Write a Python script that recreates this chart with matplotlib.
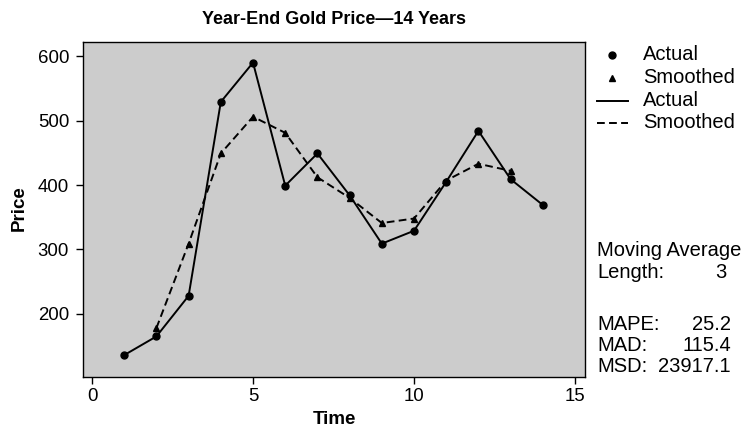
import matplotlib.pyplot as plt
from matplotlib.lines import Line2D

plt.rcParams['font.family'] = ['Liberation Sans', 'DejaVu Sans']

# year index and year-end gold price
time = [1, 2, 3, 4, 5, 6, 7, 8, 9, 10, 11, 12, 13, 14]
actual = [136, 165, 228, 529, 590, 399, 449, 384, 309, 329, 405, 484, 409, 369]

# 3-period moving average, as plotted
smooth_time = [2, 3, 4, 5, 6, 7, 8, 9, 10, 11, 12, 13]
smoothed = [178, 309, 449, 506, 481, 412, 380, 341, 348, 407, 433, 422]

stat_labels = ['MAPE:', 'MAD:', 'MSD:']
stat_values = ['25.2', '115.4', '23917.1']
ma_length = '3'

W, H = 751, 429


def fx(px):
    return px / W


def fy(py):
    return 1 - py / H


fig = plt.figure(figsize=(7.51, 4.29), dpi=100)
ax = fig.add_axes([fx(83), fy(377), (585 - 83) / W, (377 - 42) / H])
ax.set_facecolor('#cccccc')

LW = 1.4
ax.plot(time, actual, '-', color='black', linewidth=LW)
ax.plot(time, actual, 'o', color='black', markersize=5)
ax.plot(smooth_time, smoothed, '--', color='black', linewidth=LW, dashes=(4, 2.2))
ax.plot(smooth_time, smoothed, '^', color='black', markersize=5)

ax.set_xlim(-0.28, 15.31)
ax.set_ylim(102, 622)
ax.set_xticks([0, 5, 10, 15])
ax.set_yticks([200, 300, 400, 500, 600])
ax.tick_params(direction='out', length=5, width=1, labelsize=13.4, color='black')
ax.tick_params(axis='y', pad=5)
ax.tick_params(axis='x', pad=3)
for s in ax.spines.values():
    s.set_linewidth(1)

ax.set_xlabel('Time', fontsize=13.5, fontweight='bold')
ax.set_ylabel('Price', fontsize=13.5, fontweight='bold')
ax.xaxis.set_label_coords(0.5 * (83 + 585) / W, fy(411), transform=fig.transFigure)
ax.yaxis.set_label_coords(fx(28), fy(208), transform=fig.transFigure)
fig.text(fx(334), fy(19), 'Year-End Gold Price\u201414 Years',
         ha='center', va='center', fontsize=13, fontweight='bold')

# legend drawn by hand to match the layout
TS = 14.5
rows = [55, 77.5, 100.5, 123]
names = ['Actual', 'Smoothed', 'Actual', 'Smoothed']
fig.add_artist(Line2D([fx(612)], [fy(rows[0])], marker='o', linestyle='none',
                      color='black', markersize=5, transform=fig.transFigure))
fig.add_artist(Line2D([fx(612)], [fy(rows[1])], marker='^', linestyle='none',
                      color='black', markersize=5, transform=fig.transFigure))
fig.add_artist(Line2D([fx(597), fx(628)], [fy(rows[2])] * 2, linestyle='-',
                      color='black', linewidth=LW, transform=fig.transFigure))
fig.add_artist(Line2D([fx(597), fx(628)], [fy(rows[3])] * 2, linestyle='--',
                      dashes=(4, 2.2), color='black', linewidth=LW,
                      transform=fig.transFigure))
for r, n in zip(rows, names):
    fig.text(fx(643), fy(r), n, ha='left', va='center', fontsize=TS)

x_lab = fx(597)
fig.text(x_lab, fy(250), 'Moving Average', ha='left', va='center', fontsize=TS)
fig.text(x_lab, fy(272), 'Length:', ha='left', va='center', fontsize=TS)
fig.text(fx(726), fy(272), ma_length, ha='right', va='center', fontsize=TS)
for i, (lab, val) in enumerate(zip(stat_labels, stat_values)):
    y = fy(324 + 21.5 * i)
    fig.text(x_lab, y, lab, ha='left', va='center', fontsize=TS)
    fig.text(fx(731), y, val, ha='right', va='center', fontsize=TS)

fig.savefig('out.png', dpi=100)
